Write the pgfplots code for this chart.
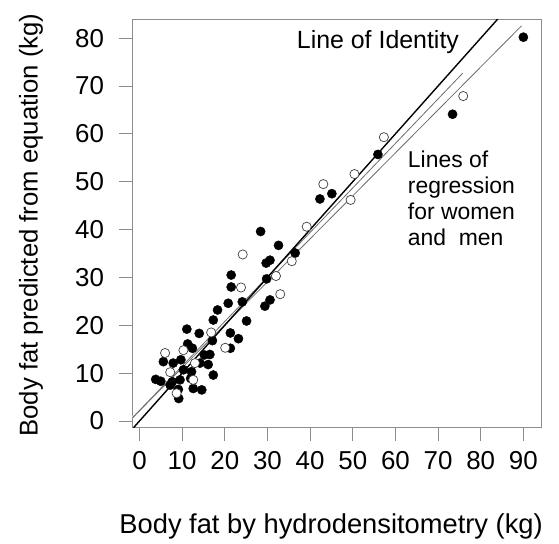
\documentclass[border=0pt]{standalone}
\usepackage{fontspec}
\setmainfont{Liberation Sans}
\usepackage{pgfplots}
\pgfplotsset{compat=1.18}
\definecolor{axgray}{RGB}{140,140,140}
\definecolor{reggray}{RGB}{110,110,110}
\begin{document}
\begin{tikzpicture}
\begin{axis}[
  name=ax,
  scale only axis, width=409.2bp, height=408.2bp,
  xmin=-1.64, xmax=94.3, ymin=-1.4, ymax=83.9,
  xtick={0,10,...,90}, ytick={0,10,...,80},
  axis line style={axgray, line width=0.8bp},
  tick style={axgray, line width=0.8bp},
  tick align=outside, major tick length=13bp,
  xtick pos=lower, ytick pos=left,
  ticklabel style={font=\fontsize{26}{30}\selectfont, black},
  xticklabel style={yshift=-7bp},
  yticklabel style={xshift=-12bp},
  /pgf/number format/assume math mode=true,
  xlabel={Body fat by hydrodensitometry (kg)},
  ylabel={Body fat predicted from equation (kg)},
  xlabel style={font=\fontsize{27.4}{32}\selectfont, at={(rel axis cs:0.5,0)}, anchor=center, yshift=-99bp, xshift=-6bp},
  ylabel style={font=\fontsize{25.8}{30}\selectfont, at={(rel axis cs:0,0.5)}, anchor=center, yshift=101.5bp, xshift=-1.5bp},
  clip=true,
]
\addplot[only marks, mark=*, mark size=4.6bp, mark options={fill=black, draw=black}] table {
x y
90 80.2
73.4 64.1
55.9 55.7
45.1 47.5
42.3 46.4
28.4 39.6
32.6 36.7
36.5 35.1
30.6 33.6
29.7 33.0
21.5 30.5
29.8 29.7
21.5 28.0
30.6 25.3
29.4 24.0
20.8 24.6
24.1 24.9
18.3 23.2
17.3 21.1
25.1 20.9
11.1 19.2
14.0 18.3
21.3 18.4
23.2 17.2
17.1 16.8
21.3 15.2
11.3 16.1
12.4 15.2
16.5 13.9
15.2 13.8
5.6 12.4
7.9 12.1
9.7 12.8
14.2 12.1
16.1 11.8
17.3 9.6
10.3 10.7
12.2 10.3
12.0 8.9
3.8 8.7
5.0 8.3
7.7 8.2
9.5 8.6
7.2 7.5
12.6 6.8
14.6 6.5
9.1 6.6
9.2 4.7
};
\addplot[only marks, mark=*, mark size=4.6bp, mark options={fill=white, draw=black!75, line width=0.7bp}] table {
x y
75.9 67.9
57.3 59.3
50.4 51.6
49.5 46.2
43.1 49.5
39.2 40.6
24.2 34.8
35.7 33.4
32.0 30.3
23.8 27.9
33.0 26.5
16.8 18.5
20.1 15.3
6.0 14.2
10.3 14.8
13.0 12.1
7.2 10.2
12.6 8.6
8.7 5.8
};
% regression lines (white casing + gray)
\addplot[white, line width=2.4bp, no marks] coordinates {(-1.64,0.67) (75.8,72.7)};
\addplot[white, line width=2.4bp, no marks] coordinates {(-1.64,0.67) (89.6,82.6)};
\addplot[reggray, line width=0.8bp, no marks] coordinates {(-1.64,0.67) (75.8,72.7)};
\addplot[reggray, line width=0.8bp, no marks] coordinates {(-1.64,0.67) (89.6,82.6)};
% identity
\addplot[black, line width=1.4bp, no marks] coordinates {(-1.4,-1.4) (84,84)};
\node[font=\fontsize{25}{30}\selectfont] at (axis cs:55.9,79.2) {Line of Identity};
\node[font=\fontsize{23}{26}\selectfont, align=left, anchor=north west, inner sep=0pt] at (axis cs:62.9,56.5) {Lines of\\regression\\for women\\and\ \ men};
\end{axis}
\path (ax.south west) ++(-132.5bp,-116.3bp) coordinate (bbA);
\path (ax.north east) ++(17.3bp,19.5bp) coordinate (bbB);
\pgfresetboundingbox
\path[use as bounding box] (bbA) rectangle (bbB);
\end{tikzpicture}
\end{document}
